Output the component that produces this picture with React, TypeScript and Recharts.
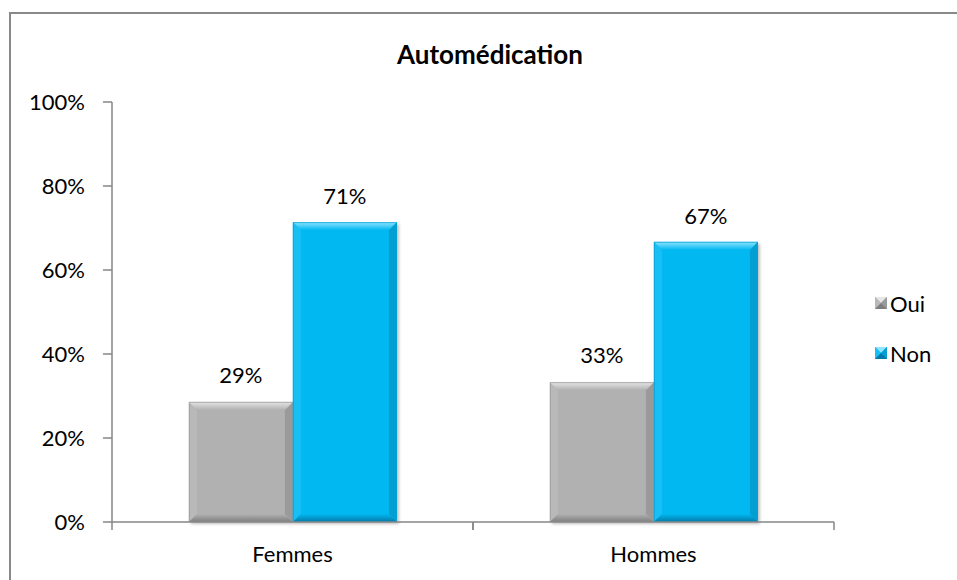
import React from "react";
import { BarChart, Bar, XAxis, YAxis, LabelList, Legend } from "recharts";

const categories = ["Femmes", "Hommes"];
const ouiValues = [0.286, 0.333];
const nonValues = [0.714, 0.667];
const yTicks = [0, 0.2, 0.4, 0.6, 0.8, 1];

const data = categories.map((name, i) => ({
  name,
  Oui: ouiValues[i],
  Non: nonValues[i],
}));

const FONT = "Lato, 'Open Sans', sans-serif";
const BAND = 361;

const palette: Record<string, { base: string; top: string; left: string; right: string; bottom: string }> = {
  Oui: { base: "#b1b1b1", top: "#e6e6e6", left: "#b9b9b9", right: "#9a9a9a", bottom: "#7e7e7e" },
  Non: { base: "#02b8f1", top: "#8fe4ff", left: "#18bff4", right: "#049fd2", bottom: "#0279a8" },
};

function bevelShape(key: string) {
  return (props: any) => {
    const { x, y, width: w, height: h } = props;
    if (!h || h <= 0) return <g />;
    const c = palette[key];
    const b = 8;
    return (
      <g>
        <defs>
          <linearGradient id={`top-${key}`} x1="0" y1="0" x2="0" y2="1">
            <stop offset="0%" stopColor={c.top} />
            <stop offset="100%" stopColor={c.base} />
          </linearGradient>
          <linearGradient id={`bot-${key}`} x1="0" y1="0" x2="0" y2="1">
            <stop offset="0%" stopColor={c.base} />
            <stop offset="100%" stopColor={c.bottom} />
          </linearGradient>
          <filter id="barShadow" x="-10%" y="-10%" width="130%" height="130%">
            <feGaussianBlur stdDeviation="1.5" />
          </filter>
        </defs>
        <rect x={x + 2} y={y + 2} width={w} height={h} fill="#000" opacity={0.25} filter="url(#barShadow)" />
        <rect x={x} y={y} width={w} height={h} fill={c.base} />
        <polygon points={`${x},${y} ${x + b},${y + b} ${x + b},${y + h - b} ${x},${y + h}`} fill={c.left} />
        <polygon points={`${x + w},${y} ${x + w},${y + h} ${x + w - b},${y + h - b} ${x + w - b},${y + b}`} fill={c.right} />
        <polygon points={`${x},${y} ${x + w},${y} ${x + w - b},${y + b} ${x + b},${y + b}`} fill={`url(#top-${key})`} />
        <polygon points={`${x},${y + h} ${x + b},${y + h - b} ${x + w - b},${y + h - b} ${x + w},${y + h}`} fill={`url(#bot-${key})`} />
        <rect x={x + 0.5} y={y + 0.5} width={w - 1} height={h - 1} fill="none" stroke={c.right} strokeOpacity={0.7} strokeWidth={1} />
      </g>
    );
  };
}

const pct = (v: any) => `${Math.round(Number(v) * 100)}%`;

const CategoryTick = (props: any) => {
  const { x, y, payload } = props;
  return (
    <g>
      <line x1={x - BAND / 2} y1={y} x2={x - BAND / 2} y2={y + 8} stroke="#868686" strokeWidth={1.5} />
      <line x1={x + BAND / 2} y1={y} x2={x + BAND / 2} y2={y + 8} stroke="#868686" strokeWidth={1.5} />
      <text x={x} y={y + 32} dy="0.35em" textAnchor="middle" fill="#000" fontSize={22} fontFamily={FONT}>
        {payload.value}
      </text>
    </g>
  );
};

const LegendContent = () => (
  <div style={{ fontFamily: FONT, fontSize: 22, color: "#000" }}>
    {["Oui", "Non"].map((k, i) => {
      const c = palette[k];
      return (
        <div key={k} style={{ display: "flex", alignItems: "center", height: 26, marginBottom: i === 0 ? 24 : 0 }}>
          <svg width={12} height={12} style={{ marginRight: 3 }}>
            <rect x={0} y={0} width={12} height={12} fill={c.base} />
            <polygon points="0,0 12,0 6,6" fill={c.top} />
            <polygon points="0,0 6,6 0,12" fill={c.left} />
            <polygon points="12,0 12,12 6,6" fill={c.right} />
            <polygon points="0,12 6,6 12,12" fill={c.bottom} />
          </svg>
          <span>{k}</span>
        </div>
      );
    })}
  </div>
);

export default function App() {
  return (
    <div style={{ position: "absolute", left: 0, top: 0, width: 957, height: 580, overflow: "hidden", background: "#fff" }}>
      <div
        style={{
          position: "absolute",
          left: 9,
          top: 12,
          width: 980,
          height: 600,
          border: "2px solid #898989",
          boxSizing: "border-box",
        }}
      />
      <div
        style={{
          position: "absolute",
          left: 0,
          top: 37,
          width: 980,
          textAlign: "center",
          fontFamily: FONT,
          fontWeight: 700,
          fontSize: 26,
          lineHeight: "34px",
          color: "#000",
        }}
      >
        Automédication
      </div>
      <div style={{ position: "absolute", left: 0, top: 0 }}>
        <BarChart
          width={957}
          height={580}
          data={data}
          margin={{ top: 102, right: 123, left: 52, bottom: 18 }}
          barCategoryGap="21.3%"
          barGap={0}
        >
          <XAxis
            dataKey="name"
            axisLine={{ stroke: "#868686", strokeWidth: 1.5 }}
            tickLine={false}
            tickSize={0}
            tickMargin={0}
            height={40}
            tick={<CategoryTick />}
            interval={0}
          />
          <YAxis
            domain={[0, 1]}
            ticks={yTicks}
            tickFormatter={pct}
            width={60}
            axisLine={{ stroke: "#868686", strokeWidth: 1.5 }}
            tickLine={{ stroke: "#868686", strokeWidth: 1.5 }}
            tickSize={9}
            tickMargin={18}
            tick={{ fill: "#000", fontSize: 22, fontFamily: FONT }}
            interval={0}
          />
          <Legend
            layout="vertical"
            align="center"
            verticalAlign="middle"
            content={<LegendContent />}
            wrapperStyle={{ left: 875, top: 290, width: 82 }}
          />
          <Bar dataKey="Oui" shape={bevelShape("Oui")} isAnimationActive={false}>
            <LabelList dataKey="Oui" position="top" offset={19} formatter={pct} fill="#000" fontSize={22} fontFamily={FONT} />
          </Bar>
          <Bar dataKey="Non" shape={bevelShape("Non")} isAnimationActive={false}>
            <LabelList dataKey="Non" position="top" offset={18} formatter={pct} fill="#000" fontSize={22} fontFamily={FONT} />
          </Bar>
        </BarChart>
      </div>
    </div>
  );
}
